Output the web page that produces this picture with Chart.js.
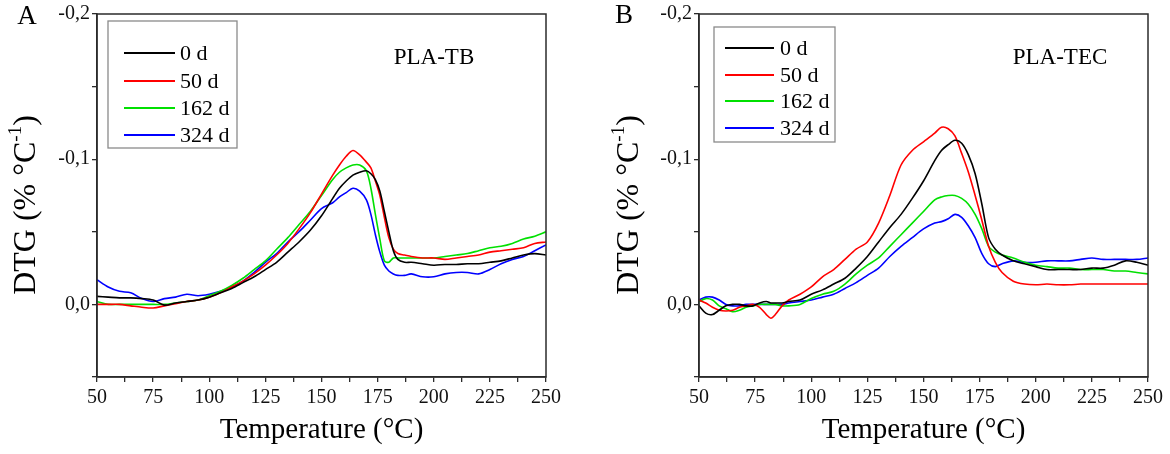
<!DOCTYPE html>
<html lang="en">
<head>
    <meta charset="UTF-8">
    <title>DTG curves PLA-TB / PLA-TEC</title>
    <script src="https://cdn.jsdelivr.net/npm/chart.js"></script>
    <style>
        body { margin: 0; background: #fff; }
        .panel { position: absolute; top: 0; width: 585px; height: 454px; }
    </style>
</head>
<body>
<div class="panel" style="left:0"><canvas id="chartA" width="585" height="454"></canvas></div>
<div class="panel" style="left:585px"><canvas id="chartB" width="585" height="454"></canvas></div>

<script>
    // series names and colours
    const seriesLabels = ['0 d', '50 d', '162 d', '324 d'];
    const seriesColors = ['#000000', '#ff0000', '#00e000', '#0000ff'];

    // panel A, PLA-TB (temperature in °C, DTG in % °C-1)
    const tempA = [50, 55, 60, 65, 70, 75, 80, 85, 90, 95, 100, 105, 110, 115, 120, 125, 130, 135, 140, 145,
        150, 155, 158, 161, 164, 167, 170, 172, 174, 176, 178, 180, 182, 184, 187, 190, 195, 200, 205, 210,
        215, 220, 225, 230, 235, 240, 245, 250];
    const tb0 = [-0.0055, -0.005, -0.0045, -0.0045, -0.004, -0.003, 0.0005, -0.001, -0.002, -0.003, -0.005, -0.008,
        -0.011, -0.015, -0.019, -0.024, -0.029, -0.036, -0.043, -0.051, -0.061, -0.073, -0.080, -0.085, -0.089,
        -0.091, -0.092, -0.090, -0.086, -0.078, -0.064, -0.050, -0.037, -0.031, -0.029, -0.029, -0.028, -0.027,
        -0.0275, -0.0275, -0.028, -0.028, -0.029, -0.030, -0.032, -0.034, -0.035, -0.034];
    const tb50 = [0.0, 0.0, 0.0, 0.001, 0.002, 0.0025, 0.001, -0.0005, -0.002, -0.003, -0.005, -0.008, -0.012,
        -0.016, -0.021, -0.027, -0.034, -0.042, -0.052, -0.063, -0.076, -0.089, -0.096, -0.102, -0.106, -0.103,
        -0.098, -0.094, -0.085, -0.075, -0.060, -0.046, -0.038, -0.035, -0.034, -0.033, -0.032, -0.032, -0.031,
        -0.032, -0.033, -0.034, -0.036, -0.037, -0.038, -0.039, -0.042, -0.043];
    const tb162 = [-0.002, 0.0, 0.0, 0.0, 0.0, 0.0, 0.0, -0.001, -0.002, -0.003, -0.006, -0.009, -0.013, -0.018,
        -0.024, -0.030, -0.038, -0.046, -0.055, -0.064, -0.075, -0.086, -0.091, -0.094, -0.096, -0.096, -0.092,
        -0.080, -0.062, -0.045, -0.030, -0.029, -0.032, -0.032, -0.032, -0.032, -0.032, -0.032, -0.033, -0.034,
        -0.035, -0.037, -0.039, -0.040, -0.042, -0.045, -0.047, -0.050];
    const tb324 = [-0.017, -0.012, -0.009, -0.008, -0.004, -0.002, -0.004, -0.005, -0.007, -0.006, -0.007, -0.009,
        -0.012, -0.016, -0.022, -0.029, -0.035, -0.043, -0.050, -0.058, -0.066, -0.070, -0.074, -0.077, -0.080,
        -0.078, -0.072, -0.062, -0.048, -0.036, -0.027, -0.023, -0.021, -0.020, -0.020, -0.021, -0.019, -0.019,
        -0.021, -0.022, -0.022, -0.021, -0.024, -0.028, -0.031, -0.033, -0.037, -0.041];

    // panel B, PLA-TEC
    const tempB = [50, 53, 56, 59, 62, 65, 68, 71, 74, 77, 80, 82, 84, 87, 90, 95, 100, 105, 110, 115, 120, 125,
        130, 135, 140, 145, 150, 155, 158, 161, 164, 167, 170, 173, 176, 179, 182, 185, 190, 195, 200, 205, 210,
        215, 220, 225, 230, 235, 240, 245, 250];
    const tec0 = [0.001, 0.006, 0.007, 0.004, 0.001, 0.0, 0.0, 0.001, 0.001, -0.001, -0.002, -0.001, -0.001, -0.001,
        -0.002, -0.003, -0.007, -0.010, -0.014, -0.018, -0.025, -0.033, -0.043, -0.053, -0.062, -0.073, -0.085,
        -0.099, -0.106, -0.110, -0.113, -0.111, -0.103, -0.090, -0.069, -0.046, -0.038, -0.034, -0.030, -0.028,
        -0.026, -0.024, -0.024, -0.024, -0.024, -0.025, -0.025, -0.027, -0.030, -0.029, -0.027];
    const tec50 = [-0.003, -0.001, 0.002, 0.004, 0.0045, 0.004, 0.002, 0.001, 0.0, 0.002, 0.007, 0.0095, 0.007,
        0.001, -0.003, -0.007, -0.012, -0.019, -0.024, -0.031, -0.038, -0.043, -0.056, -0.075, -0.096, -0.106,
        -0.112, -0.118, -0.122, -0.121, -0.116, -0.104, -0.091, -0.075, -0.058, -0.040, -0.029, -0.022, -0.016,
        -0.014, -0.0135, -0.014, -0.0135, -0.0135, -0.014, -0.014, -0.014, -0.014, -0.014, -0.014, -0.014];
    const tec162 = [-0.002, -0.004, -0.003, 0.001, 0.003, 0.005, 0.004, 0.002, 0.001, 0.0, 0.0, 0.0, 0.0, 0.001,
        0.001, 0.0, -0.004, -0.007, -0.009, -0.014, -0.021, -0.027, -0.032, -0.040, -0.048, -0.056, -0.064,
        -0.072, -0.074, -0.075, -0.075, -0.073, -0.069, -0.062, -0.052, -0.040, -0.036, -0.034, -0.032, -0.029,
        -0.027, -0.026, -0.025, -0.025, -0.024, -0.024, -0.024, -0.023, -0.023, -0.022, -0.021];
    const tec324 = [-0.003, -0.005, -0.005, -0.003, 0.0, 0.001, 0.001, 0.0, 0.0, 0.0, 0.0, 0.0, 0.0, 0.0, -0.001,
        -0.002, -0.003, -0.005, -0.007, -0.011, -0.015, -0.020, -0.025, -0.033, -0.040, -0.046, -0.052, -0.056,
        -0.057, -0.059, -0.062, -0.060, -0.054, -0.046, -0.035, -0.028, -0.026, -0.028, -0.030, -0.029, -0.029,
        -0.030, -0.030, -0.030, -0.031, -0.032, -0.031, -0.031, -0.031, -0.031, -0.032];

    // axis ticks
    const xMin = 50, xMax = 250, xStep = 12.5, xLabelStep = 25;
    const yMin = -0.2, yMax = 0.05, yStep = 0.05;

    const serif = "'Liberation Serif', 'DejaVu Serif', serif";
    const axisColor = '#2b2b2b';

    // frame, panel letter, sample name, legend box and y title
    const decorations = {
        id: 'decorations',
        afterDraw(chart, args, opts) {
            const ctx = chart.ctx;
            const a = chart.chartArea;
            ctx.save();
            ctx.strokeStyle = axisColor;
            ctx.lineWidth = 1.5;
            ctx.strokeRect(a.left, a.top, a.right - a.left, a.bottom - a.top);

            ctx.fillStyle = '#000';
            ctx.textBaseline = 'middle';
            ctx.textAlign = 'center';
            ctx.font = '27px ' + serif;
            ctx.fillText(opts.letter, opts.letterX, opts.letterY);
            ctx.font = '23px ' + serif;
            ctx.fillText(opts.sample, opts.sampleX, opts.sampleY);

            // legend
            const lg = opts.legend;
            ctx.strokeStyle = '#8a8a8a';
            ctx.lineWidth = 1.3;
            ctx.strokeRect(lg.x, lg.y, lg.w, lg.h);
            ctx.font = '22px ' + serif;
            ctx.textAlign = 'left';
            chart.data.datasets.forEach((ds, i) => {
                const yy = lg.rows[i];
                ctx.strokeStyle = ds.borderColor;
                ctx.lineWidth = 2;
                ctx.beginPath();
                ctx.moveTo(lg.lineX0, yy);
                ctx.lineTo(lg.lineX1, yy);
                ctx.stroke();
                ctx.fillStyle = '#000';
                ctx.fillText(ds.label, lg.textX, yy + 1);
            });

            // y axis title with superscript
            ctx.translate(opts.yTitleX, opts.yTitleY);
            ctx.rotate(-Math.PI / 2);
            const big = '32px ' + serif, small = '19px ' + serif;
            const parts = [['DTG (% °C', big, 0], ['-1', small, -11], [')', big, 0]];
            let total = 0;
            parts.forEach(p => { ctx.font = p[1]; total += ctx.measureText(p[0]).width; });
            let x = -total / 2;
            ctx.textAlign = 'left';
            ctx.textBaseline = 'middle';
            ctx.fillStyle = '#000';
            parts.forEach(p => {
                ctx.font = p[1];
                ctx.fillText(p[0], x, p[2] + 1);
                x += ctx.measureText(p[0]).width;
            });
            ctx.restore();
        }
    };

    function pts(temps, vals) {
        return temps.map((t, i) => ({x: t, y: vals[i]}));
    }

    function makeChart(id, temps, series, yWidth, padRight, deco) {
        new Chart(document.getElementById(id), {
            type: 'line',
            data: {
                datasets: series.map((s, i) => ({
                    label: seriesLabels[i],
                    data: pts(temps, s),
                    borderColor: seriesColors[i],
                    borderWidth: 1.6,
                    pointRadius: 0,
                    tension: 0.3,
                    fill: false
                }))
            },
            options: {
                responsive: false,
                animation: false,
                events: [],
                layout: {padding: {left: 0, top: 14, right: padRight, bottom: 0}},
                plugins: {
                    legend: {display: false},
                    tooltip: {enabled: false},
                    decorations: deco
                },
                scales: {
                    x: {
                        type: 'linear',
                        min: xMin,
                        max: xMax,
                        afterFit: s => { s.height = 77; },
                        border: {display: true, color: axisColor, width: 1.5},
                        grid: {drawOnChartArea: false, drawTicks: true, tickLength: 5, color: axisColor, lineWidth: 1.3},
                        ticks: {
                            stepSize: xStep,
                            autoSkip: false,
                            maxRotation: 0,
                            padding: 4,
                            color: '#111',
                            font: {family: serif, size: 20},
                            callback: v => (v % xLabelStep === 0 ? v : '')
                        },
                        title: {
                            display: true,
                            text: 'Temperature (°C)',
                            color: '#000',
                            font: {family: serif, size: 29},
                            padding: {top: 0, bottom: 6}
                        }
                    },
                    y: {
                        type: 'linear',
                        reverse: true,
                        min: yMin,
                        max: yMax,
                        afterFit: s => { s.width = yWidth; },
                        border: {display: true, color: axisColor, width: 1.5},
                        grid: {drawOnChartArea: false, drawTicks: true, tickLength: 5, color: axisColor, lineWidth: 1.3},
                        ticks: {
                            stepSize: yStep,
                            autoSkip: false,
                            padding: 2,
                            color: '#111',
                            font: {family: serif, size: 20},
                            callback: v => {
                                const r = Math.round(v * 10);
                                if (Math.abs(v * 10 - r) > 1e-6) return '';
                                return (r / 10).toFixed(1).replace('.', ',');
                            }
                        }
                    }
                }
            },
            plugins: [decorations]
        });
    }

    makeChart('chartA', tempA, [tb0, tb50, tb162, tb324], 97, 39, {
        letter: 'A', letterX: 27, letterY: 17,
        sample: 'PLA-TB', sampleX: 434, sampleY: 58,
        yTitleX: 26, yTitleY: 205,
        legend: {x: 108, y: 21, w: 129, h: 127, rows: [53, 81, 108, 135], lineX0: 124, lineX1: 175, textX: 180}
    });
    makeChart('chartB', tempB, [tec0, tec50, tec162, tec324], 114, 22, {
        letter: 'B', letterX: 39, letterY: 16,
        sample: 'PLA-TEC', sampleX: 475, sampleY: 58,
        yTitleX: 44, yTitleY: 205,
        legend: {x: 129, y: 27, w: 121, h: 115, rows: [48, 75, 101, 128], lineX0: 140, lineX1: 189, textX: 195}
    });
</script>
</body>
</html>
